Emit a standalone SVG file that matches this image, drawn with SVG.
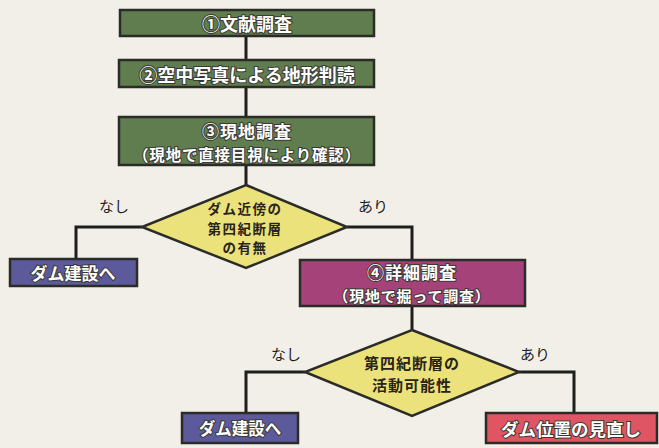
<svg xmlns="http://www.w3.org/2000/svg" width="659" height="448" viewBox="0 0 659 448">
<style>
.box{stroke:#2b2b28;stroke-width:2.5}
.g{fill:#5f7d4f}
.blue{fill:#5d5a9c}
.mag{fill:#a5427a}
.red{fill:#df5563}
.dia{fill:#ece27c;stroke:#2b2b28;stroke-width:2.5}
.wt{font-family:"Noto Sans CJK JP","Noto Sans",sans-serif;font-weight:bold;fill:#ffffff;stroke:#3a3a34;stroke-width:2;paint-order:stroke;text-anchor:middle;dominant-baseline:central}
.dt{font-family:"Noto Sans CJK JP","Noto Sans",sans-serif;font-weight:bold;fill:#2a2418;text-anchor:middle;dominant-baseline:central}
.lb{font-family:"Noto Sans CJK JP","Noto Sans",sans-serif;fill:#1e1e1e;text-anchor:middle;dominant-baseline:central;font-size:15px}
.ln{fill:none;stroke:#1e1e1c;stroke-width:3}
</style>
<rect width="659" height="448" fill="#f1efe8"/>
<g id="connectors">
<path class="ln" d="M246 36V60M246 87V117M246 165V185"/>
<path class="ln" d="M142 227H76V259"/>
<path class="ln" d="M347 227H412V260"/>
<path class="ln" d="M412 306V330"/>
<path class="ln" d="M305 372H246V413"/>
<path class="ln" d="M519 372H574V413"/>
</g>
<g id="n1"><rect class="box g" x="120" y="10" width="254" height="26"/><text class="wt" x="247" y="23" font-size="18">①文献調査</text></g>
<g id="n2"><rect class="box g" x="119" y="60" width="255" height="27"/><text class="wt" x="247" y="73.5" font-size="18">②空中写真による地形判読</text></g>
<g id="n3"><rect class="box g" x="119" y="117" width="255" height="48"/><text class="wt" x="247" y="130" font-size="17" letter-spacing="1">③現地調査</text><text class="wt" x="247" y="154" font-size="15.5" letter-spacing="0.8">（現地で直接目視により確認）</text></g>
<g id="d1"><polygon class="dia" points="246,185 347,227 246,268 142,227"/><text class="dt" x="245" y="208" font-size="13.5" letter-spacing="1.5">ダム近傍の</text><text class="dt" x="245" y="227.5" font-size="13.5" letter-spacing="1.5">第四紀断層</text><text class="dt" x="245" y="247" font-size="13.5" letter-spacing="1.5">の有無</text></g>
<text class="lb" x="114" y="205">なし</text>
<text class="lb" x="373" y="205">あり</text>
<g id="n5"><rect class="box blue" x="10" y="259" width="127" height="27"/><text class="wt" x="73" y="272.5" font-size="17">ダム建設へ</text></g>
<g id="n4"><rect class="box mag" x="300" y="260" width="225" height="46"/><text class="wt" x="412" y="271.5" font-size="17" letter-spacing="1">④詳細調査</text><text class="wt" x="412" y="295" font-size="15" letter-spacing="0.8">（現地で掘って調査）</text></g>
<g id="d2"><polygon class="dia" points="412,330 519,372 412,416 305,372"/><text class="dt" x="412" y="362" font-size="15" letter-spacing="1">第四紀断層の</text><text class="dt" x="412" y="384" font-size="15" letter-spacing="1">活動可能性</text></g>
<text class="lb" x="286" y="353">なし</text>
<text class="lb" x="535" y="353">あり</text>
<g id="n6"><rect class="box blue" x="182" y="413" width="116" height="30"/><text class="wt" x="240" y="428" font-size="16.5">ダム建設へ</text></g>
<g id="n7"><rect class="box red" x="486" y="413" width="171" height="30"/><text class="wt" x="571" y="428" font-size="17.5">ダム位置の見直し</text></g>
</svg>
